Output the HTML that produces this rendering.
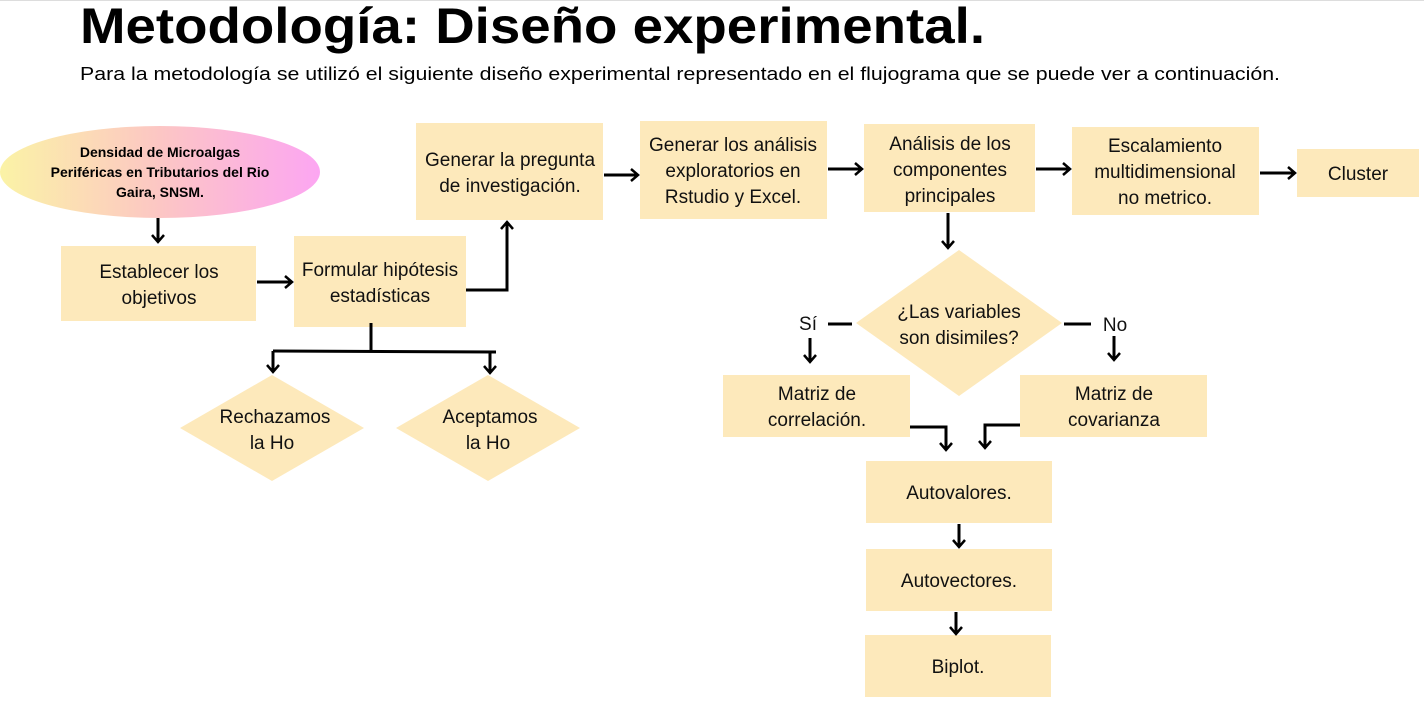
<!DOCTYPE html>
<html><head><meta charset="utf-8"><style>
body{margin:0;width:1424px;height:701px;background:#fff;overflow:hidden;font-family:"Liberation Sans",sans-serif}
</style></head><body>
<svg width="1424" height="701" xmlns="http://www.w3.org/2000/svg" font-family="Liberation Sans, sans-serif">
<defs>
<linearGradient id="g" x1="0" x2="1" y1="0" y2="0">
<stop offset="0" stop-color="#fbf3a6"/><stop offset="0.5" stop-color="#fcc6c4"/><stop offset="1" stop-color="#fca6f2"/></linearGradient>
<marker id="a" markerWidth="16" markerHeight="16" refX="10" refY="8" orient="auto" markerUnits="userSpaceOnUse">
<polyline points="3,2 10,8 3,14" fill="none" stroke="#000" stroke-width="2.5"/></marker>
</defs>
<line x1="0" y1="0.5" x2="1424" y2="0.5" stroke="#ddd"/>
<text x="80" y="43" font-size="50" font-weight="bold" textLength="905" lengthAdjust="spacingAndGlyphs">Metodología: Diseño experimental.</text>
<text x="80" y="80" font-size="18.5" textLength="1200" lengthAdjust="spacingAndGlyphs">Para la metodología se utilizó el siguiente diseño experimental representado en el flujograma que se puede ver a continuación.</text>

<ellipse cx="160" cy="172" rx="160" ry="46" fill="url(#g)"/>
<g font-size="14" font-weight="bold" text-anchor="middle">
<text x="160" y="157">Densidad de Microalgas</text>
<text x="160" y="177">Periféricas en Tributarios del Rio</text>
<text x="160" y="197">Gaira, SNSM.</text></g>

<g fill="#fde9bb">
<rect x="61" y="246" width="195" height="75"/>
<rect x="294" y="236" width="172" height="91"/>
<rect x="416" y="123" width="187" height="97"/>
<rect x="640" y="121" width="187" height="98"/>
<rect x="864" y="124" width="171" height="88"/>
<rect x="1072" y="127" width="187" height="88"/>
<rect x="1297" y="149" width="122" height="48"/>
<polygon points="959,250 1062,323 959,396 856,323"/>
<rect x="723" y="375" width="187" height="62"/>
<rect x="1020" y="375" width="187" height="62"/>
<rect x="866" y="461" width="186" height="62"/>
<rect x="866" y="549" width="186" height="62"/>
<rect x="865" y="635" width="186" height="62"/>
<polygon points="272,375 364,428 272,481 180,428"/>
<polygon points="488,375 580,428 488,481 396,428"/>
</g>

<g font-size="19" text-anchor="middle" fill="#111">
<text x="159" y="278">Establecer los</text><text x="159" y="304">objetivos</text>
<text x="380" y="276">Formular hipótesis</text><text x="380" y="302">estadísticas</text>
<text x="510" y="166">Generar la pregunta</text><text x="510" y="192">de investigación.</text>
<text x="733" y="151">Generar los análisis</text><text x="733" y="177">exploratorios en</text><text x="733" y="203">Rstudio y Excel.</text>
<text x="950" y="150">Análisis de los</text><text x="950" y="176">componentes</text><text x="950" y="202">principales</text>
<text x="1165" y="152">Escalamiento</text><text x="1165" y="178">multidimensional</text><text x="1165" y="204">no metrico.</text>
<text x="1358" y="180">Cluster</text>
<text x="959" y="318">¿Las variables</text><text x="959" y="344">son disimiles?</text>
<text x="808" y="330">Sí</text><text x="1115" y="331">No</text>
<text x="817" y="400">Matriz de</text><text x="817" y="426">correlación.</text>
<text x="1114" y="400">Matriz de</text><text x="1114" y="426">covarianza</text>
<text x="959" y="499">Autovalores.</text>
<text x="959" y="587">Autovectores.</text>
<text x="958" y="673">Biplot.</text>
<text x="275" y="423">Rechazamos</text><text x="272" y="449">la Ho</text>
<text x="490" y="423">Aceptamos</text><text x="488" y="449">la Ho</text>
</g>

<g stroke="#000" stroke-width="3" fill="none">
<line x1="158" y1="218" x2="158" y2="242" marker-end="url(#a)"/>
<line x1="257" y1="282" x2="292" y2="282" marker-end="url(#a)"/>
<polyline points="466,290 507,290 507,222" marker-end="url(#a)"/>
<line x1="604" y1="175" x2="638" y2="175" marker-end="url(#a)"/>
<line x1="828" y1="169" x2="862" y2="169" marker-end="url(#a)"/>
<line x1="1036" y1="169" x2="1070" y2="169" marker-end="url(#a)"/>
<line x1="1260" y1="173" x2="1295" y2="173" marker-end="url(#a)"/>
<line x1="948" y1="213" x2="948" y2="248" marker-end="url(#a)"/>
<line x1="371" y1="323" x2="371" y2="352"/>
<line x1="273" y1="351" x2="496" y2="352"/>
<line x1="273" y1="351" x2="273" y2="372" marker-end="url(#a)"/>
<line x1="490" y1="352" x2="490" y2="373" marker-end="url(#a)"/>
<line x1="828" y1="324" x2="852" y2="324"/>
<line x1="810" y1="338" x2="810" y2="362" marker-end="url(#a)"/>
<line x1="1064" y1="324" x2="1091" y2="324"/>
<line x1="1114" y1="336" x2="1114" y2="360" marker-end="url(#a)"/>
<polyline points="910,427 946,427 946,450" marker-end="url(#a)"/>
<polyline points="1020,425 985,425 985,448" marker-end="url(#a)"/>
<line x1="959" y1="524" x2="959" y2="547" marker-end="url(#a)"/>
<line x1="956" y1="612" x2="956" y2="634" marker-end="url(#a)"/>
</g>
</svg>
</body></html>
